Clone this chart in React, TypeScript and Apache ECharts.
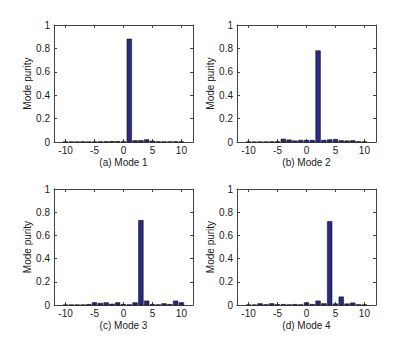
import React, { useEffect, useRef } from "react";
import * as echarts from "echarts";

const positions = [-10, -9, -8, -7, -6, -5, -4, -3, -2, -1, 0, 1, 2, 3, 4, 5, 6, 7, 8, 9, 10];
const mode1 = [0.001, 0.001, 0.001, 0.002, 0.001, 0.001, 0.002, 0.003, 0.005, 0.004, 0.003, 0.88, 0.012, 0.013, 0.02, 0.008, 0.003, 0.002, 0.002, 0.003, 0.002];
const mode2 = [0.001, 0.001, 0.001, 0.001, 0.002, 0.003, 0.025, 0.018, 0.01, 0.015, 0.015, 0.015, 0.78, 0.015, 0.02, 0.022, 0.012, 0.01, 0.012, 0.003, 0.002];
const mode3 = [0.001, 0.001, 0.001, 0.001, 0.005, 0.02, 0.015, 0.02, 0.008, 0.02, 0.005, 0.002, 0.02, 0.73, 0.035, 0.005, 0.002, 0.012, 0.005, 0.035, 0.02];
const mode4 = [0.001, 0.001, 0.012, 0.003, 0.012, 0.003, 0.005, 0.002, 0.005, 0.002, 0.02, 0.005, 0.035, 0.012, 0.72, 0.01, 0.07, 0.01, 0.018, 0.003, 0.002];
const titles = ["(a) Mode 1", "(b) Mode 2", "(c) Mode 3", "(d) Mode 4"];
const xTicks = [-10, -5, 0, 5, 10];
const yAxisName = "Mode purity";

const FONT = "Liberation Sans, Arial, Helvetica, sans-serif";
const AXIS_COLOR = "#444";
const TEXT_COLOR = "#1a1a1a";
const BAR_COLOR = "#2a2a85";

export default function App() {
  const ref = useRef<HTMLDivElement>(null);
  useEffect(() => {
    if (!ref.current) return;
    const chart = echarts.init(ref.current, undefined, { renderer: "svg" });
    const modes = [mode1, mode2, mode3, mode4];
    const gridPos = [
      { left: 54, top: 25, width: 139, height: 117 },
      { left: 237, top: 25, width: 139, height: 117 },
      { left: 54, top: 189, width: 139, height: 116 },
      { left: 237, top: 189, width: 139, height: 116 },
    ];
    const grid: any[] = [];
    const xAxis: any[] = [];
    const yAxis: any[] = [];
    const series: any[] = [];
    gridPos.forEach((g, i) => {
      grid.push({ ...g, show: false });
      const tickCommon = { inside: true, length: 3, lineStyle: { color: AXIS_COLOR } };
      xAxis.push({
        type: "value", gridIndex: i, min: -12, max: 12, position: "bottom",
        axisLine: { show: true, onZero: false, lineStyle: { color: AXIS_COLOR } },
        axisTick: { ...tickCommon, customValues: xTicks },
        axisLabel: { customValues: xTicks, color: TEXT_COLOR, fontSize: 10, fontFamily: FONT, margin: 3 },
        splitLine: { show: false },
        name: titles[i], nameLocation: "middle", nameGap: 15,
        nameTextStyle: { color: TEXT_COLOR, fontSize: 10, fontFamily: FONT },
      });
      xAxis.push({
        type: "value", gridIndex: i, min: -12, max: 12, position: "top",
        axisLine: { show: true, onZero: false, lineStyle: { color: AXIS_COLOR } },
        axisTick: { ...tickCommon, customValues: xTicks },
        axisLabel: { show: false, customValues: xTicks },
        splitLine: { show: false },
      });
      yAxis.push({
        type: "value", gridIndex: i, min: 0, max: 1, interval: 0.2, position: "left",
        axisLine: { show: true, onZero: false, lineStyle: { color: AXIS_COLOR } },
        axisTick: { ...tickCommon },
        axisLabel: { color: TEXT_COLOR, fontSize: 10, fontFamily: FONT, margin: 4 },
        splitLine: { show: false },
        name: yAxisName, nameLocation: "middle", nameGap: 20,
        nameTextStyle: { color: TEXT_COLOR, fontSize: 10, fontFamily: FONT },
      });
      yAxis.push({
        type: "value", gridIndex: i, min: 0, max: 1, interval: 0.2, position: "right",
        axisLine: { show: true, onZero: false, lineStyle: { color: AXIS_COLOR } },
        axisTick: { ...tickCommon },
        axisLabel: { show: false },
        splitLine: { show: false },
      });
      series.push({
        type: "custom",
        xAxisIndex: i * 2,
        yAxisIndex: i * 2,
        data: positions.map((p, k) => [p, modes[i][k]]),
        renderItem: (params: any, api: any) => {
          const x = api.value(0);
          const y = api.value(1);
          const p0 = api.coord([x - 0.4, y]);
          const p1 = api.coord([x + 0.4, 0]);
          return {
            type: "rect",
            shape: { x: p0[0], y: p0[1], width: p1[0] - p0[0], height: p1[1] - p0[1] },
            style: { fill: BAR_COLOR, stroke: "#111", lineWidth: 0.6 },
          };
        },
      });
    });
    chart.setOption({
      animation: false,
      backgroundColor: "#fff",
      grid,
      xAxis,
      yAxis,
      series,
    });
    return () => chart.dispose();
  }, []);
  return <div ref={ref} style={{ width: 415, height: 343, position: "absolute", left: 0, top: 0 }} />;
}
